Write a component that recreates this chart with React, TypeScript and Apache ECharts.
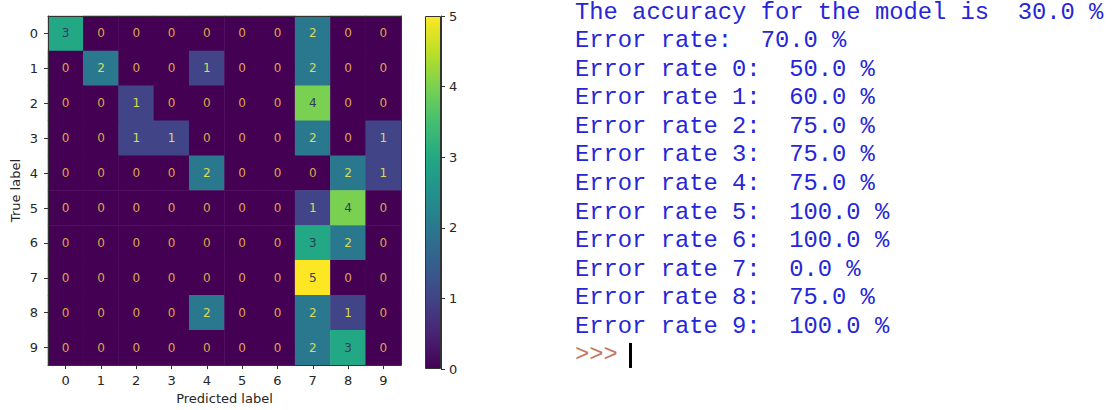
import React, { useEffect, useRef } from "react";
import * as echarts from "echarts";

const classLabels = ["0", "1", "2", "3", "4", "5", "6", "7", "8", "9"];
const confusion: number[][] = [
  [3, 0, 0, 0, 0, 0, 0, 2, 0, 0],
  [0, 2, 0, 0, 1, 0, 0, 2, 0, 0],
  [0, 0, 1, 0, 0, 0, 0, 4, 0, 0],
  [0, 0, 1, 1, 0, 0, 0, 2, 0, 1],
  [0, 0, 0, 0, 2, 0, 0, 0, 2, 1],
  [0, 0, 0, 0, 0, 0, 0, 1, 4, 0],
  [0, 0, 0, 0, 0, 0, 0, 3, 2, 0],
  [0, 0, 0, 0, 0, 0, 0, 5, 0, 0],
  [0, 0, 0, 0, 2, 0, 0, 2, 1, 0],
  [0, 0, 0, 0, 0, 0, 0, 2, 3, 0],
];
const colorbarMax = 5;
const accuracy = 30.0;
const overallError = 70.0;
const classErrorRates = [50, 60, 75, 75, 75, 100, 100, 0, 75, 100];

const viridis = [
  "#440154", "#482475", "#414487", "#355f8d", "#2a788e", "#21918c",
  "#22a884", "#44bf70", "#7ad151", "#bddf26", "#fde725",
];

export default function App() {
  const ref = useRef<HTMLDivElement>(null);
  useEffect(() => {
    document.body.style.margin = "0";
    const chart = echarts.init(ref.current!, null, { renderer: "svg" });
    const heatData: any[] = [];
    confusion.forEach((row, r) =>
      row.forEach((v, c) => {
        const color = v >= 2.5 ? "#2e3d5c" : v === 0 ? "#dca54c" : "#d8db5a";
        heatData.push({ value: [c, r, v], label: { color } });
      })
    );
    const lines = [
      `The accuracy for the model is  ${accuracy.toFixed(1)} %`,
      `Error rate:  ${overallError.toFixed(1)} %`,
      ...classErrorRates.map((e, i) => `Error rate ${i}:  ${e.toFixed(1)} %`),
    ];
    const lineTop = 12;
    const lineStep = 28.58;
    const textX = 575;
    const graphics: any[] = lines.map((t, i) => ({
      type: "text",
      x: textX,
      y: lineTop + i * lineStep,
      style: {
        text: t,
        font: "23.8px 'Liberation Mono'",
        fill: "#2626d8",
        verticalAlign: "middle",
        align: "left",
      },
    }));
    const promptY = lineTop + lines.length * lineStep;
    graphics.push({
      type: "text",
      x: textX,
      y: promptY,
      style: {
        text: ">>>",
        font: "23.8px 'Liberation Mono'",
        fill: "#c4775e",
        verticalAlign: "middle",
        align: "left",
      },
    });
    graphics.push({
      type: "rect",
      shape: { x: 629, y: promptY - 12, width: 3, height: 25 },
      style: { fill: "#000" },
    });

    const axisText = { color: "#262626", fontSize: 13, fontFamily: "DejaVu Sans" };
    const frameLine = { show: true, lineStyle: { color: "#333", width: 1 } };

    chart.setOption({
      animation: false,
      backgroundColor: "#fff",
      grid: [
        { left: 48, top: 16, width: 353, height: 353 },
        { left: 425, top: 16, width: 16, height: 353 },
      ],
      xAxis: [
        {
          gridIndex: 0,
          type: "category",
          data: classLabels,
          position: "bottom",
          z: 5,
          axisLine: frameLine,
          axisTick: { show: true, alignWithLabel: true, length: 4, lineStyle: { color: "#333" } },
          axisLabel: { ...axisText, margin: 9 },
          splitLine: { show: false },
          name: "Predicted label",
          nameLocation: "middle",
          nameGap: 26,
          nameTextStyle: { ...axisText },
        },
        {
          gridIndex: 0,
          type: "category",
          data: classLabels,
          position: "top",
          z: 5,
          axisLine: frameLine,
          axisTick: { show: false },
          axisLabel: { show: false },
        },
        {
          gridIndex: 1,
          type: "category",
          data: ["cb"],
          show: false,
        },
      ],
      yAxis: [
        {
          gridIndex: 0,
          type: "category",
          data: classLabels,
          inverse: true,
          position: "left",
          z: 5,
          axisLine: frameLine,
          axisTick: { show: true, alignWithLabel: true, length: 4, lineStyle: { color: "#333" } },
          axisLabel: { ...axisText, margin: 10 },
          splitLine: { show: false },
          name: "True label",
          nameLocation: "middle",
          nameGap: 26,
          nameRotate: 90,
          nameTextStyle: { ...axisText },
        },
        {
          gridIndex: 0,
          type: "category",
          data: classLabels,
          inverse: true,
          position: "right",
          z: 5,
          axisLine: frameLine,
          axisTick: { show: false },
          axisLabel: { show: false },
        },
        {
          gridIndex: 1,
          type: "value",
          min: 0,
          max: colorbarMax,
          interval: 1,
          position: "right",
          z: 5,
          axisLine: frameLine,
          axisTick: { show: true, length: 4, lineStyle: { color: "#333" } },
          axisLabel: { ...axisText, margin: 8 },
          splitLine: { show: false },
        },
      ],
      visualMap: {
        show: false,
        type: "continuous",
        min: 0,
        max: colorbarMax,
        seriesIndex: 0,
        inRange: { color: viridis },
      },
      series: [
        {
          type: "heatmap",
          xAxisIndex: 0,
          yAxisIndex: 0,
          data: heatData,
          label: { show: true, fontSize: 12, fontFamily: "DejaVu Sans" },
          itemStyle: { borderWidth: 0 },
          emphasis: { disabled: true },
        },
        {
          type: "bar",
          xAxisIndex: 2,
          yAxisIndex: 2,
          data: [colorbarMax],
          barWidth: "100%",
          itemStyle: {
            borderColor: "#333",
            borderWidth: 1,
            color: new echarts.graphic.LinearGradient(
              0, 0, 0, 1,
              viridis.slice().reverse().map((c, i) => ({ offset: i / (viridis.length - 1), color: c }))
            ),
          },
        },
      ],
      graphic: graphics,
    });
    return () => chart.dispose();
  }, []);
  return <div ref={ref} style={{ width: 1113, height: 410 }} />;
}
